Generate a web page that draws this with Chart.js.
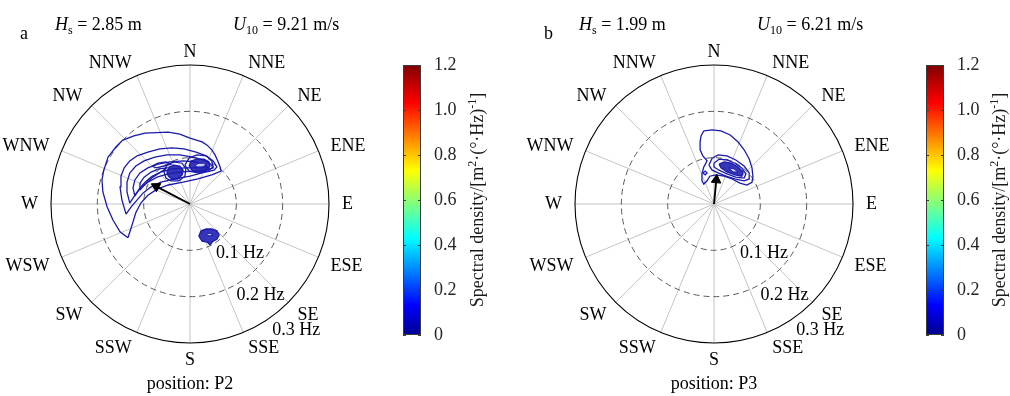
<!DOCTYPE html>
<html>
<head>
<meta charset="utf-8">
<script src="https://cdn.jsdelivr.net/npm/chart.js@4.4.1/dist/chart.umd.min.js"></script>
<style>
  body { margin: 0; background: #fff; width: 1010px; height: 396px; position: relative; overflow: hidden; }
  canvas { position: absolute; top: 0; }
</style>
</head>
<body>
<canvas id="polarA" width="380" height="396" style="left:0"></canvas>
<canvas id="barA" width="110" height="396" style="left:390px"></canvas>
<canvas id="polarB" width="380" height="396" style="left:524px"></canvas>
<canvas id="barB" width="98" height="396" style="left:912px"></canvas>
<script>
// compass directions and frequency rings (Hz)
const directions = ['N', 'NNE', 'NE', 'ENE', 'E', 'ESE', 'SE', 'SSE', 'S', 'SSW', 'SW', 'WSW', 'W', 'WNW', 'NW', 'NNW'];
const freqRings = [0.1, 0.2, 0.3];
const freqLabels = ['0.1 Hz', '0.2 Hz', '0.3 Hz'];

// colorbar
const cbMin = 0, cbMax = 1.2, cbStep = 0.2;

// panel info
const panelLetters = ['a', 'b'];
const hsValues = [2.85, 1.99];
const u10Values = [9.21, 6.21];
const positions = ['P2', 'P3'];

// contours as [fx, fy] frequency components in Hz (fx east, fy north)
const contoursA = [
  [[-0.134,-0.073],[-0.151,-0.060],[-0.166,-0.035],[-0.179,-0.006],[-0.188,0.026],[-0.190,0.052],[-0.186,0.073],[-0.177,0.101],[-0.160,0.123],[-0.145,0.138],[-0.121,0.147],[-0.097,0.153],[-0.047,0.155],[-0.022,0.151],[0.000,0.142],[0.026,0.134],[0.037,0.127],[0.047,0.117],[0.054,0.106],[0.060,0.093],[0.065,0.080],[0.067,0.071],[0.047,0.063],[0.017,0.054],[-0.015,0.047],[-0.047,0.041],[-0.071,0.032],[-0.091,0.019],[-0.106,0.002],[-0.117,-0.019],[-0.125,-0.045],[-0.132,-0.067]],
  [[-0.138,-0.022],[-0.147,0.009],[-0.151,0.037],[-0.149,0.060],[-0.142,0.078],[-0.130,0.093],[-0.114,0.104],[-0.091,0.112],[-0.065,0.119],[-0.039,0.121],[-0.013,0.119],[0.013,0.112],[0.035,0.104],[0.050,0.093],[0.058,0.080],[0.052,0.073],[0.026,0.067],[0.000,0.060],[-0.032,0.054],[-0.063,0.047],[-0.084,0.037],[-0.101,0.024],[-0.114,0.009],[-0.127,-0.006]],
  [[-0.130,0.002],[-0.136,0.026],[-0.136,0.047],[-0.130,0.067],[-0.117,0.082],[-0.099,0.093],[-0.076,0.101],[-0.050,0.106],[-0.022,0.106],[0.006,0.101],[0.030,0.095],[0.045,0.086],[0.050,0.078],[0.032,0.073],[0.006,0.071],[-0.022,0.069],[-0.047,0.065],[-0.071,0.058],[-0.091,0.047],[-0.106,0.035],[-0.119,0.019]],
  [[-0.119,0.017],[-0.123,0.035],[-0.119,0.052],[-0.108,0.067],[-0.091,0.078],[-0.069,0.086],[-0.043,0.091],[-0.015,0.093],[0.011,0.091],[0.032,0.084],[0.039,0.078],[0.017,0.078],[-0.011,0.078],[-0.039,0.076],[-0.063,0.069],[-0.082,0.060],[-0.097,0.047],[-0.110,0.032]],
  [[-0.108,0.030],[-0.108,0.045],[-0.099,0.058],[-0.084,0.069],[-0.067,0.076],[-0.050,0.078],[-0.063,0.069],[-0.080,0.058],[-0.095,0.045]],
  [[-0.082,0.082],[-0.069,0.088],[-0.052,0.091],[-0.041,0.086],[-0.056,0.082],[-0.073,0.078]],
  [[-0.056,0.069],[-0.050,0.084],[-0.035,0.091],[-0.017,0.088],[-0.009,0.076],[-0.011,0.060],[-0.024,0.050],[-0.041,0.050],[-0.052,0.056]],
  [[-0.011,0.084],[-0.002,0.099],[0.015,0.106],[0.035,0.104],[0.047,0.093],[0.050,0.080],[0.039,0.071],[0.017,0.067],[-0.002,0.071]]
];
const peaksA = [
  [[-0.050,0.069],[-0.045,0.080],[-0.035,0.084],[-0.022,0.082],[-0.015,0.073],[-0.017,0.063],[-0.026,0.054],[-0.039,0.054],[-0.047,0.060]],
  [[-0.002,0.082],[0.002,0.093],[0.015,0.097],[0.030,0.097],[0.041,0.091],[0.043,0.082],[0.037,0.073],[0.022,0.069],[0.006,0.071]],
  [[0.019,-0.069],[0.024,-0.058],[0.035,-0.054],[0.047,-0.054],[0.058,-0.058],[0.063,-0.067],[0.058,-0.076],[0.050,-0.080],[0.043,-0.088],[0.037,-0.082],[0.026,-0.080]]
];
const topsA = [
  [[0.011,0.084],[0.019,0.088],[0.030,0.088],[0.035,0.084],[0.026,0.080],[0.015,0.080]],
  [[0.035,-0.065],[0.043,-0.063],[0.050,-0.067],[0.041,-0.069]]
];
const arrowA = [-0.073, 0.038];

const contoursB = [
  [[-0.022,0.158],[-0.004,0.160],[0.015,0.158],[0.035,0.149],[0.052,0.134],[0.065,0.117],[0.076,0.097],[0.082,0.078],[0.084,0.060],[0.082,0.047],[0.071,0.041],[0.056,0.045],[0.039,0.054],[0.022,0.060],[0.004,0.063],[-0.009,0.060],[-0.015,0.050],[-0.022,0.043],[-0.026,0.050],[-0.026,0.065],[-0.022,0.080],[-0.015,0.093],[-0.024,0.104],[-0.030,0.117],[-0.030,0.134],[-0.028,0.147]],
  [[-0.011,0.084],[-0.004,0.099],[0.009,0.106],[0.028,0.104],[0.047,0.095],[0.065,0.082],[0.076,0.067],[0.076,0.054],[0.065,0.050],[0.045,0.054],[0.026,0.060],[0.009,0.067],[-0.004,0.073]],
  [[0.000,0.088],[0.011,0.097],[0.028,0.095],[0.045,0.088],[0.060,0.078],[0.069,0.065],[0.065,0.056],[0.047,0.058],[0.028,0.065],[0.011,0.073],[0.000,0.080]],
  [[-0.024,0.067],[-0.019,0.071],[-0.015,0.067],[-0.019,0.063]]
];
const peaksB = [
  [[0.011,0.086],[0.022,0.091],[0.037,0.088],[0.052,0.080],[0.063,0.069],[0.060,0.060],[0.045,0.063],[0.028,0.069],[0.015,0.078]]
];
const topsB = [
  [[0.032,0.078],[0.043,0.076],[0.052,0.069],[0.041,0.069]]
];
const arrowB = [0.005, 0.052];

const LINE = '#1a1aae';
const FONT = '"Liberation Serif", "Times New Roman", serif';
Chart.defaults.font.family = FONT;

function richText(ctx, parts, x, y, align) {
  const fontOf = p => (p.italic ? 'italic ' : '') + (p.sub || p.sup ? 12 : 18) + 'px ' + FONT;
  let w = 0;
  parts.forEach(p => { ctx.font = fontOf(p); p.w = ctx.measureText(p.t).width; w += p.w; });
  let px = align === 'center' ? x - w / 2 : x;
  ctx.textAlign = 'left';
  ctx.textBaseline = 'alphabetic';
  parts.forEach(p => {
    ctx.font = fontOf(p);
    ctx.fillText(p.t, px, y + (p.sub ? 4 : p.sup ? -7 : 0));
    px += p.w;
  });
}

const polarGrid = {
  id: 'polarGrid',
  beforeDatasetsDraw(chart) {
    const {ctx, scales: {x, y}} = chart;
    const cx = x.getPixelForValue(0), cy = y.getPixelForValue(0);
    const R = x.getPixelForValue(freqRings[freqRings.length - 1]) - cx;
    ctx.save();
    ctx.strokeStyle = '#c4c4c4';
    ctx.lineWidth = 1;
    directions.forEach((d, i) => {
      const a = i * 22.5 * Math.PI / 180;
      ctx.beginPath();
      ctx.moveTo(cx, cy);
      ctx.lineTo(cx + R * Math.sin(a), cy - R * Math.cos(a));
      ctx.stroke();
    });
    ctx.setLineDash([6, 4]);
    ctx.strokeStyle = '#5a5a5a';
    freqRings.slice(0, -1).forEach(f => {
      ctx.beginPath();
      ctx.arc(cx, cy, x.getPixelForValue(f) - cx, 0, Math.PI * 2);
      ctx.stroke();
    });
    ctx.restore();
  },
  afterDatasetsDraw(chart, args, opts) {
    const {ctx, scales: {x, y}} = chart;
    const cx = x.getPixelForValue(0), cy = y.getPixelForValue(0);
    const R = x.getPixelForValue(freqRings[freqRings.length - 1]) - cx;
    ctx.save();
    ctx.strokeStyle = '#000';
    ctx.lineWidth = 1.1;
    ctx.beginPath();
    ctx.arc(cx, cy, R, 0, Math.PI * 2);
    ctx.stroke();

    ctx.fillStyle = '#000';
    ctx.font = '18px ' + FONT;
    ctx.textBaseline = 'middle';
    directions.forEach((d, i) => {
      const a = i * 22.5 * Math.PI / 180;
      const s = Math.sin(a), c = Math.cos(a);
      ctx.textAlign = s > 0.01 ? 'left' : s < -0.01 ? 'right' : 'center';
      ctx.fillText(d, cx + (R + 13) * s, cy - (R + 13) * c + (c < -0.1 ? 4 : 0));
    });
    const labAng = [152, 153, 147];
    const labGap = [9, 10, 12];
    ctx.textAlign = 'left';
    freqRings.forEach((f, i) => {
      const r = x.getPixelForValue(f) - cx + labGap[i];
      const a = labAng[i] * Math.PI / 180;
      ctx.fillText(freqLabels[i], cx + r * Math.sin(a), cy - r * Math.cos(a));
    });

    const k = opts.index;
    ctx.font = '18px ' + FONT;
    ctx.textBaseline = 'alphabetic';
    ctx.fillText(panelLetters[k], 20, 39);
    richText(ctx, [{t: 'H', italic: true}, {t: 's', sub: true}, {t: ' = ' + hsValues[k].toFixed(2) + ' m'}], 55, 30);
    richText(ctx, [{t: 'U', italic: true}, {t: '10', sub: true}, {t: ' = ' + u10Values[k].toFixed(2) + ' m/s'}], 233, 30);
    richText(ctx, [{t: 'position: ' + positions[k]}], cx, 389, 'center');
    ctx.restore();
  }
};

function closed(c) {
  return c.concat([c[0]]).map(p => ({x: p[0], y: p[1]}));
}

function polarChart(id, k, contours, peaks, tops, arrow) {
  const datasets = [];
  contours.forEach(c => datasets.push({data: closed(c), borderColor: LINE, borderWidth: 1.3, pointRadius: 0, fill: false, order: 3}));
  peaks.forEach(c => datasets.push({data: closed(c), borderColor: LINE, borderWidth: 1.3, pointRadius: 0, fill: 'shape', backgroundColor: 'rgba(26,26,174,0.88)', order: 2}));
  tops.forEach(c => datasets.push({data: closed(c), borderColor: LINE, borderWidth: 1, pointRadius: 0, fill: 'shape', backgroundColor: 'rgba(255,255,255,0.75)', order: 1}));
  const rot = Math.atan2(arrow[0], arrow[1]) * 180 / Math.PI;
  datasets.push({
    data: [{x: 0, y: 0}, {x: arrow[0], y: arrow[1]}],
    borderColor: '#000', borderWidth: 1.9, fill: false,
    pointRadius: [0, 5.5], pointStyle: 'triangle', pointRotation: [0, rot],
    pointBackgroundColor: '#000', pointBorderColor: '#000', pointBorderWidth: 1, order: 0
  });
  const fMax = freqRings[freqRings.length - 1];
  return new Chart(document.getElementById(id), {
    type: 'line',
    data: {datasets},
    options: {
      responsive: false,
      animation: false,
      events: [],
      layout: {padding: {left: 51, right: 51, top: 65, bottom: 53}},
      elements: {line: {tension: 0}},
      scales: {
        x: {type: 'linear', min: -fMax, max: fMax, display: false},
        y: {type: 'linear', min: -fMax, max: fMax, display: false}
      },
      plugins: {legend: {display: false}, tooltip: {enabled: false}, polarGrid: {index: k}}
    },
    plugins: [polarGrid]
  });
}

const cbFrame = {
  id: 'cbFrame',
  afterDatasetsDraw(chart, args, opts) {
    const {ctx, chartArea: a, scales: {y}} = chart;
    ctx.save();
    ctx.strokeStyle = '#3a3a3a';
    ctx.lineWidth = 1;
    ctx.strokeRect(a.left + 0.5, a.top + 0.5, a.right - a.left - 1, a.bottom - a.top - 1);
    y.ticks.forEach(t => {
      const py = Math.round(y.getPixelForValue(t.value)) + 0.5;
      ctx.beginPath();
      ctx.moveTo(a.left, py); ctx.lineTo(a.left + 3, py);
      ctx.moveTo(a.right, py); ctx.lineTo(a.right - 3, py);
      ctx.stroke();
    });
    ctx.fillStyle = '#1a1a1a';
    ctx.translate(opts.titleX, (a.top + a.bottom) / 2);
    ctx.rotate(-Math.PI / 2);
    richText(ctx, [{t: 'Spectral density/[m'}, {t: '2', sup: true}, {t: '\u00b7(\u00b0\u00b7Hz)'}, {t: '-1', sup: true}, {t: ']'}], 0, 0, 'center');
    ctx.restore();
  }
};

function jet(context) {
  const {ctx, chartArea} = context.chart;
  if (!chartArea) return '#00f';
  const g = ctx.createLinearGradient(0, chartArea.bottom, 0, chartArea.top);
  g.addColorStop(0, '#00008f');
  g.addColorStop(0.11, '#0000ff');
  g.addColorStop(0.36, '#00ffff');
  g.addColorStop(0.61, '#ffff00');
  g.addColorStop(0.86, '#ff0000');
  g.addColorStop(1, '#800000');
  return g;
}

function colorbar(id, padLeft, padRight, titleX) {
  return new Chart(document.getElementById(id), {
    type: 'bar',
    data: {labels: [''], datasets: [{data: [cbMax], backgroundColor: jet, borderWidth: 0, barPercentage: 1, categoryPercentage: 1}]},
    options: {
      responsive: false,
      animation: false,
      events: [],
      layout: {padding: {left: padLeft, right: padRight, top: 65, bottom: 61}},
      scales: {
        x: {display: false},
        y: {
          position: 'right', min: cbMin, max: cbMax,
          grid: {display: false, drawTicks: false}, border: {display: false},
          afterFit(s) { s.width = 60; },
          ticks: {stepSize: cbStep, padding: 13, color: '#262626', font: {size: 18, family: FONT},
            callback: v => v === 0 ? '0' : v.toFixed(1)}
        }
      },
      plugins: {legend: {display: false}, tooltip: {enabled: false}, cbFrame: {titleX}}
    },
    plugins: [cbFrame]
  });
}

polarChart('polarA', 0, contoursA, peaksA, topsA, arrowA);
polarChart('polarB', 1, contoursB, peaksB, topsB, arrowB);
colorbar('barA', 13, 19, 93);
colorbar('barB', 14, 6, 93);
</script>
</body>
</html>
